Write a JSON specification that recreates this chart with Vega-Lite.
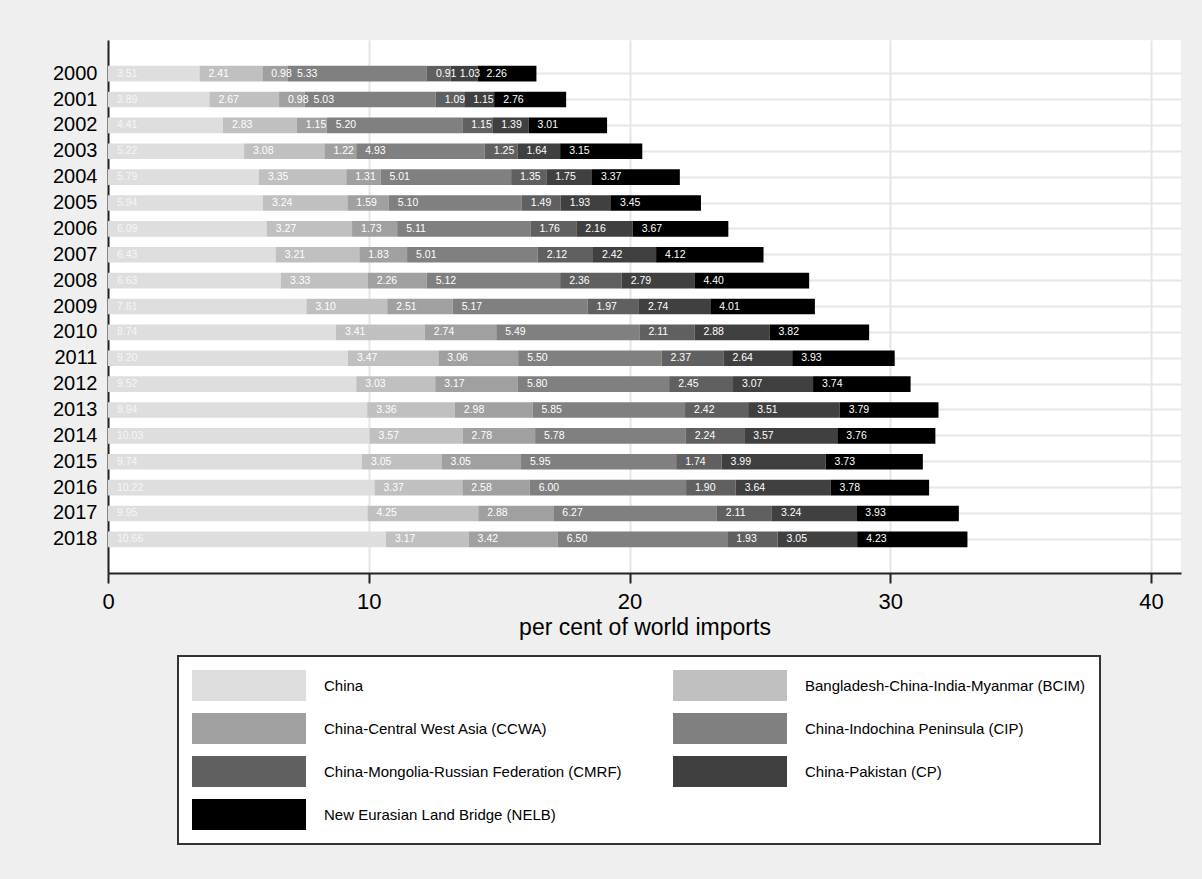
{
  "$schema": "https://vega.github.io/schema/vega-lite/v6.json",
  "width": 1073,
  "height": 533,
  "autosize": {"type": "none"},
  "padding": {"left": 108, "top": 40, "right": 21, "bottom": 306},
  "background": "#efefef",
  "config": {
    "view": {"fill": "white", "stroke": null},
    "font": "Liberation Sans, Arial, sans-serif"
  },
  "data": {
    "values": [
      {"year":2000,"r":"China","value":3.51},{"year":2000,"r":"BCIM","value":2.41},{"year":2000,"r":"CCWA","value":0.98},{"year":2000,"r":"CIP","value":5.33},{"year":2000,"r":"CMRF","value":0.91},{"year":2000,"r":"CP","value":1.03},{"year":2000,"r":"NELB","value":2.26},
      {"year":2001,"r":"China","value":3.89},{"year":2001,"r":"BCIM","value":2.67},{"year":2001,"r":"CCWA","value":0.98},{"year":2001,"r":"CIP","value":5.03},{"year":2001,"r":"CMRF","value":1.09},{"year":2001,"r":"CP","value":1.15},{"year":2001,"r":"NELB","value":2.76},
      {"year":2002,"r":"China","value":4.41},{"year":2002,"r":"BCIM","value":2.83},{"year":2002,"r":"CCWA","value":1.15},{"year":2002,"r":"CIP","value":5.20},{"year":2002,"r":"CMRF","value":1.15},{"year":2002,"r":"CP","value":1.39},{"year":2002,"r":"NELB","value":3.01},
      {"year":2003,"r":"China","value":5.22},{"year":2003,"r":"BCIM","value":3.08},{"year":2003,"r":"CCWA","value":1.22},{"year":2003,"r":"CIP","value":4.93},{"year":2003,"r":"CMRF","value":1.25},{"year":2003,"r":"CP","value":1.64},{"year":2003,"r":"NELB","value":3.15},
      {"year":2004,"r":"China","value":5.79},{"year":2004,"r":"BCIM","value":3.35},{"year":2004,"r":"CCWA","value":1.31},{"year":2004,"r":"CIP","value":5.01},{"year":2004,"r":"CMRF","value":1.35},{"year":2004,"r":"CP","value":1.75},{"year":2004,"r":"NELB","value":3.37},
      {"year":2005,"r":"China","value":5.94},{"year":2005,"r":"BCIM","value":3.24},{"year":2005,"r":"CCWA","value":1.59},{"year":2005,"r":"CIP","value":5.10},{"year":2005,"r":"CMRF","value":1.49},{"year":2005,"r":"CP","value":1.93},{"year":2005,"r":"NELB","value":3.45},
      {"year":2006,"r":"China","value":6.09},{"year":2006,"r":"BCIM","value":3.27},{"year":2006,"r":"CCWA","value":1.73},{"year":2006,"r":"CIP","value":5.11},{"year":2006,"r":"CMRF","value":1.76},{"year":2006,"r":"CP","value":2.16},{"year":2006,"r":"NELB","value":3.67},
      {"year":2007,"r":"China","value":6.43},{"year":2007,"r":"BCIM","value":3.21},{"year":2007,"r":"CCWA","value":1.83},{"year":2007,"r":"CIP","value":5.01},{"year":2007,"r":"CMRF","value":2.12},{"year":2007,"r":"CP","value":2.42},{"year":2007,"r":"NELB","value":4.12},
      {"year":2008,"r":"China","value":6.63},{"year":2008,"r":"BCIM","value":3.33},{"year":2008,"r":"CCWA","value":2.26},{"year":2008,"r":"CIP","value":5.12},{"year":2008,"r":"CMRF","value":2.36},{"year":2008,"r":"CP","value":2.79},{"year":2008,"r":"NELB","value":4.40},
      {"year":2009,"r":"China","value":7.61},{"year":2009,"r":"BCIM","value":3.10},{"year":2009,"r":"CCWA","value":2.51},{"year":2009,"r":"CIP","value":5.17},{"year":2009,"r":"CMRF","value":1.97},{"year":2009,"r":"CP","value":2.74},{"year":2009,"r":"NELB","value":4.01},
      {"year":2010,"r":"China","value":8.74},{"year":2010,"r":"BCIM","value":3.41},{"year":2010,"r":"CCWA","value":2.74},{"year":2010,"r":"CIP","value":5.49},{"year":2010,"r":"CMRF","value":2.11},{"year":2010,"r":"CP","value":2.88},{"year":2010,"r":"NELB","value":3.82},
      {"year":2011,"r":"China","value":9.20},{"year":2011,"r":"BCIM","value":3.47},{"year":2011,"r":"CCWA","value":3.06},{"year":2011,"r":"CIP","value":5.50},{"year":2011,"r":"CMRF","value":2.37},{"year":2011,"r":"CP","value":2.64},{"year":2011,"r":"NELB","value":3.93},
      {"year":2012,"r":"China","value":9.52},{"year":2012,"r":"BCIM","value":3.03},{"year":2012,"r":"CCWA","value":3.17},{"year":2012,"r":"CIP","value":5.80},{"year":2012,"r":"CMRF","value":2.45},{"year":2012,"r":"CP","value":3.07},{"year":2012,"r":"NELB","value":3.74},
      {"year":2013,"r":"China","value":9.94},{"year":2013,"r":"BCIM","value":3.36},{"year":2013,"r":"CCWA","value":2.98},{"year":2013,"r":"CIP","value":5.85},{"year":2013,"r":"CMRF","value":2.42},{"year":2013,"r":"CP","value":3.51},{"year":2013,"r":"NELB","value":3.79},
      {"year":2014,"r":"China","value":10.03},{"year":2014,"r":"BCIM","value":3.57},{"year":2014,"r":"CCWA","value":2.78},{"year":2014,"r":"CIP","value":5.78},{"year":2014,"r":"CMRF","value":2.24},{"year":2014,"r":"CP","value":3.57},{"year":2014,"r":"NELB","value":3.76},
      {"year":2015,"r":"China","value":9.74},{"year":2015,"r":"BCIM","value":3.05},{"year":2015,"r":"CCWA","value":3.05},{"year":2015,"r":"CIP","value":5.95},{"year":2015,"r":"CMRF","value":1.74},{"year":2015,"r":"CP","value":3.99},{"year":2015,"r":"NELB","value":3.73},
      {"year":2016,"r":"China","value":10.22},{"year":2016,"r":"BCIM","value":3.37},{"year":2016,"r":"CCWA","value":2.58},{"year":2016,"r":"CIP","value":6.00},{"year":2016,"r":"CMRF","value":1.90},{"year":2016,"r":"CP","value":3.64},{"year":2016,"r":"NELB","value":3.78},
      {"year":2017,"r":"China","value":9.95},{"year":2017,"r":"BCIM","value":4.25},{"year":2017,"r":"CCWA","value":2.88},{"year":2017,"r":"CIP","value":6.27},{"year":2017,"r":"CMRF","value":2.11},{"year":2017,"r":"CP","value":3.24},{"year":2017,"r":"NELB","value":3.93},
      {"year":2018,"r":"China","value":10.66},{"year":2018,"r":"BCIM","value":3.17},{"year":2018,"r":"CCWA","value":3.42},{"year":2018,"r":"CIP","value":6.50},{"year":2018,"r":"CMRF","value":1.93},{"year":2018,"r":"CP","value":3.05},{"year":2018,"r":"NELB","value":4.23}
    ]
  },
  "transform": [
    {
      "lookup": "r",
      "from": {
        "data": {
          "values": [
            {"r": "China", "k": 1, "region": "China"},
            {"r": "BCIM", "k": 2, "region": "Bangladesh-China-India-Myanmar (BCIM)"},
            {"r": "CCWA", "k": 3, "region": "China-Central West Asia (CCWA)"},
            {"r": "CIP", "k": 4, "region": "China-Indochina Peninsula (CIP)"},
            {"r": "CMRF", "k": 5, "region": "China-Mongolia-Russian Federation (CMRF)"},
            {"r": "CP", "k": 6, "region": "China-Pakistan (CP)"},
            {"r": "NELB", "k": 7, "region": "New Eurasian Land Bridge (NELB)"}
          ]
        },
        "key": "r",
        "fields": ["k", "region"]
      }
    },
    {
      "stack": "value",
      "groupby": ["year"],
      "sort": [{"field": "k", "order": "ascending"}],
      "as": ["v0", "v1"]
    }
  ],
  "encoding": {
    "y": {
      "field": "year",
      "type": "ordinal",
      "scale": {"paddingInner": 0.4, "paddingOuter": 1.385},
      "axis": {
        "title": null,
        "domain": true,
        "domainColor": "#222222",
        "domainWidth": 2,
        "ticks": false,
        "labelFontSize": 20,
        "labelColor": "#000000",
        "labelPadding": 11,
        "grid": true,
        "gridColor": "#e6e6e6",
        "gridWidth": 2,
        "bandPosition": 0.5
      }
    }
  },
  "layer": [
    {
      "mark": {"type": "bar"},
      "encoding": {
        "x": {
          "field": "v0",
          "type": "quantitative",
          "scale": {"domain": [0, 41.15], "nice": false, "zero": true},
          "axis": {
            "title": "per cent of world imports",
            "titleFontSize": 23,
            "titleFontWeight": "normal",
            "titleColor": "#000000",
            "titlePadding": 4,
            "values": [0, 10, 20, 30, 40],
            "format": "d",
            "domainColor": "#222222",
            "domainWidth": 2,
            "tickColor": "#222222",
            "tickWidth": 2,
            "tickSize": 10,
            "labelFontSize": 22,
            "labelColor": "#000000",
            "labelPadding": 8,
            "labelFlush": false,
            "grid": true,
            "gridColor": "#e6e6e6",
            "gridWidth": 2
          }
        },
        "x2": {"field": "v1"},
        "color": {
          "field": "region",
          "type": "nominal",
          "sort": null,
          "scale": {
            "domain": [
              "China",
              "Bangladesh-China-India-Myanmar (BCIM)",
              "China-Central West Asia (CCWA)",
              "China-Indochina Peninsula (CIP)",
              "China-Mongolia-Russian Federation (CMRF)",
              "China-Pakistan (CP)",
              "New Eurasian Land Bridge (NELB)"
            ],
            "range": ["#dedede", "#c0c0c0", "#a0a0a0", "#808080", "#606060", "#404040", "#000000"]
          },
          "legend": {
            "title": null,
            "orient": "none",
            "direction": "horizontal",
            "legendX": 70,
            "legendY": 616,
            "padding": 14,
            "columns": 2,
            "columnPadding": 51,
            "rowPadding": 12,
            "strokeColor": "#333333",
            "fillColor": "#ffffff",
            "symbolType": "M-1,-1H6.355V1H-1Z",
            "symbolSize": 961,
            "symbolStrokeWidth": 0,
            "symbolOpacity": 1,
            "labelFontSize": 15,
            "labelColor": "#000000",
            "labelOffset": 101,
            "labelLimit": 600,
            "encode": {"legend": {"update": {"strokeWidth": {"value": 2}}}}
          }
        }
      }
    },
    {
      "mark": {"type": "text", "align": "left", "baseline": "middle", "dx": 9, "fontSize": 10.5},
      "encoding": {
        "x": {"field": "v0", "type": "quantitative"},
        "text": {"field": "value", "type": "quantitative", "format": ".2f"},
        "color": {
          "condition": {"test": "datum.r === 'China'", "value": "#f6f6f6"},
          "value": "#ffffff"
        }
      }
    }
  ]
}
